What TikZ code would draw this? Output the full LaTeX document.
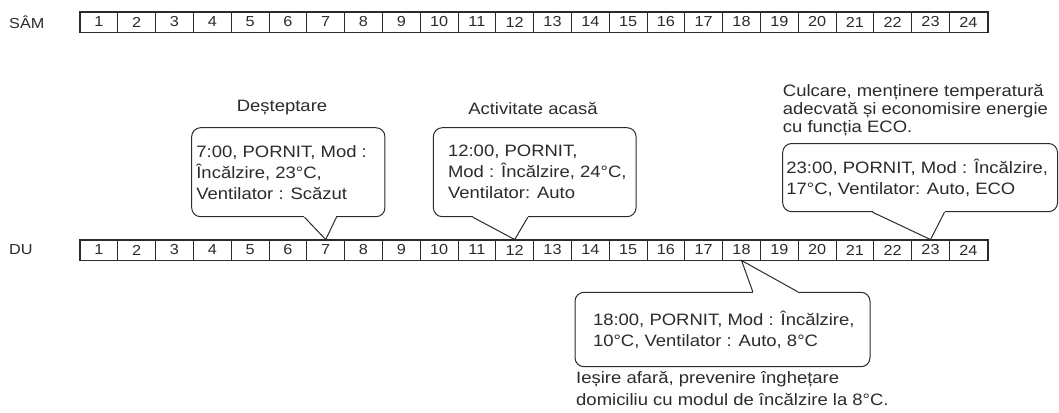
\documentclass[tikz,border=0pt]{standalone}
\usepackage{fontspec}
\setmainfont{Liberation Sans}[FakeStretch=1.12]
\usepackage{xcolor}
\usepackage{tikz}
\usetikzlibrary{positioning, calc}
\definecolor{ink}{HTML}{2B2B2B}

\begin{document}
\begin{tikzpicture}[
  x=1pt, y=-1pt,
  font=\fontsize{16.5}{21}\selectfont,
  every node/.style={text=ink},
  cell/.style={draw=ink, line width=0.9pt, minimum width=37.8pt, minimum height=20pt, inner sep=0pt, font=\fontsize{14.5}{15}\selectfont},
  daylabel/.style={anchor=west, inner sep=0pt, font=\fontsize{14.5}{15}\selectfont},
  bubble/.style={draw=ink, fill=white, line width=1pt, rounded corners=9pt, inner sep=0pt},
  bubbletext/.style={inner sep=0pt, align=left},
  note/.style={inner sep=0pt, align=left},
  pointer/.style={draw=ink, line width=1pt},
  gap/.style={draw=white, line width=2.5pt}
]
  \useasboundingbox (0,0) rectangle (1059,412);

  % day strips
  \node[daylabel] (sam) at (9,22) {SÂM};
  \node[daylabel] (du) at (9,250) {DU};
  \foreach \h in {1,...,24} {
    \node[cell] (sam\h) at ({80+(\h-0.5)*37.8},22) {\h};
    \node[cell] (du\h) at ({80+(\h-0.5)*37.8},250) {\h};
  }
  \draw[ink, line width=1.7pt] (sam1.north west) rectangle (sam24.south east);
  \draw[ink, line width=1.7pt] (du1.north west) rectangle (du24.south east);

  % 7:00
  \node (t7) at (282,108) {Deșteptare};
  \node[bubble, minimum width=193.3pt, minimum height=89pt] (c7) at (288.3,172.2) {};
  \node[bubbletext, right=5pt of c7.west] (c7txt) {7:00, PORNIT, Mod :\\Încălzire, 23°C,\\Ventilator : Scăzut};
  \coordinate (c7l) at ([xshift=113.3pt]c7.south west);
  \coordinate (c7r) at ([xshift=145.3pt]c7.south west);
  \draw[gap] (c7l) -- (c7r);
  \draw[pointer] (c7l) -- (du7.north) -- (c7r);

  % 12:00
  \node (t12) at (533,108) {Activitate acasă};
  \node[bubble, minimum width=202.7pt, minimum height=89pt] (c12) at (534.7,172.2) {};
  \node[bubbletext, right=15pt of c12.west] (c12txt) {12:00, PORNIT,\\Mod : Încălzire, 24°C,\\Ventilator: Auto};
  \coordinate (c12l) at ([xshift=40pt]c12.south west);
  \coordinate (c12r) at ([xshift=95pt]c12.south west);
  \draw[gap] (c12l) -- (c12r);
  \draw[pointer] (c12l) -- (du12.north) -- (c12r);

  % 23:00
  \node[note, anchor=west, font=\fontsize{16.5}{18}\selectfont] (t23) at (782.7,110) {Culcare, menținere temperatură\\adecvată și economisire energie\\cu funcția ECO.};
  \node[bubble, minimum width=274.8pt, minimum height=68.2pt] (c23) at (920.1,177.6) {};
  \node[bubbletext, right=4pt of c23.west] (c23txt) {23:00, PORNIT, Mod : Încălzire,\\17°C, Ventilator: Auto, ECO};
  \coordinate (c23l) at ([xshift=90.3pt]c23.south west);
  \coordinate (c23r) at ([xshift=162.3pt]c23.south west);
  \draw[gap] (c23l) -- (c23r);
  \draw[pointer] (c23l) -- (du23.north) -- (c23r);

  % 18:00
  \node[bubble, minimum width=295pt, minimum height=74.4pt] (c18) at (722.5,329.5) {};
  \node[bubbletext, right=18.3pt of c18.west] (c18txt) {18:00, PORNIT, Mod : Încălzire,\\10°C, Ventilator : Auto, 8°C};
  \coordinate (c18l) at ([xshift=178.3pt]c18.north west);
  \coordinate (c18r) at ([xshift=223.3pt]c18.north west);
  \draw[gap] (c18l) -- (c18r);
  \draw[pointer] (c18l) -- (du18.south) -- (c18r);
  \node[note, anchor=west, font=\fontsize{16.5}{22}\selectfont] (t18) at (576,388) {Ieșire afară, prevenire înghețare\\domiciliu cu modul de încălzire la 8°C.};
\end{tikzpicture}
\end{document}
